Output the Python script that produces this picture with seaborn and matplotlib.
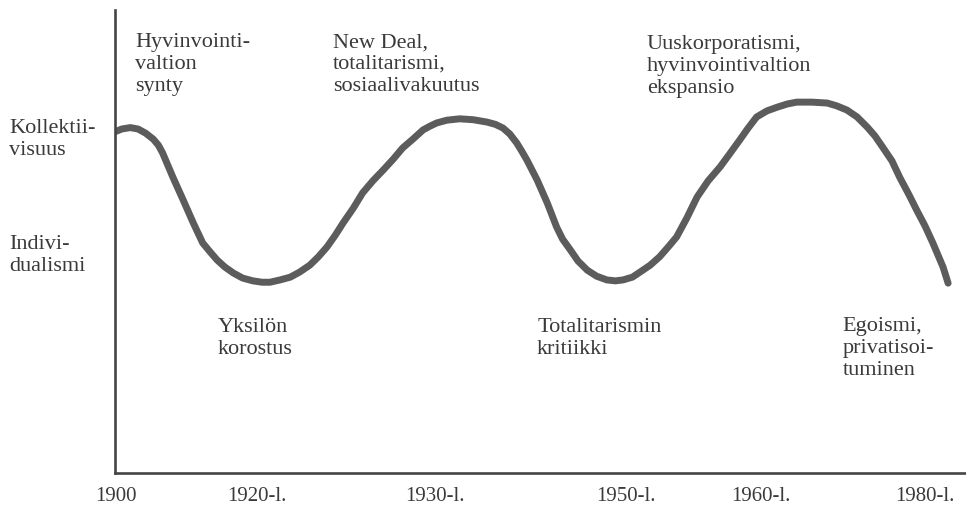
import matplotlib
matplotlib.use("Agg")
import matplotlib.pyplot as plt
import seaborn as sns
import pandas as pd

# --- data (arbitrary units: time position 0-100, orientation 0-100) ---
aika = [0.0, 0.8, 1.8, 2.7, 3.6, 4.5, 5.1, 5.6, 6.8, 8.0,
        9.2, 10.3, 11.2, 12.0, 12.9, 13.9, 15.0, 16.2, 17.3, 18.2,
        19.4, 20.6, 21.7, 22.9, 23.9, 24.9, 25.9, 26.8, 28.0, 29.1,
        30.3,
        31.5, 32.7, 33.8, 35.0, 36.2, 37.0, 37.8, 39.0, 40.5, 42.1,
        43.7, 44.7, 45.6, 46.4, 47.2, 47.8, 48.4, 49.6, 50.8, 51.9,
        52.6, 53.5, 54.4, 55.5, 56.6, 57.8, 58.8, 59.7, 60.8, 61.7,
        62.9, 64.0, 65.0, 66.0, 67.2, 68.4, 69.7, 71.1, 72.3, 73.4, 74.4,
        75.4, 76.6, 77.8, 79.0, 80.1, 81.9, 83.7, 84.8, 86.0, 87.2,
        88.4, 89.3, 90.2, 91.3, 92.2, 93.3, 94.2, 95.2, 96.1, 97.3,
        97.9]
suuntaus = [73.7, 74.3, 74.6, 74.3, 73.4, 72.1, 70.8, 69.1, 63.9, 59.0,
            54.0, 49.7, 47.7, 46.0, 44.5, 43.2, 42.1, 41.5, 41.2, 41.2,
            41.7, 42.3, 43.4, 44.9, 46.7, 48.8, 51.4, 54.0, 57.2, 60.5,
            63.1,
            65.4, 67.8, 70.2, 72.1, 74.1, 74.9, 75.6, 76.2, 76.5, 76.3,
            75.8, 75.3, 74.5, 73.2, 71.3, 69.5, 67.6, 63.3, 58.3, 53.1,
            50.5, 48.2, 45.8, 43.8, 42.5, 41.7, 41.5, 41.7, 42.3, 43.4,
            44.9, 46.7, 48.8, 51.0, 55.1, 59.6, 63.1, 66.1, 69.1, 71.9, 74.5,
            76.9, 78.2, 79.0, 79.7, 80.1, 80.1, 79.9, 79.3, 78.4, 76.9,
            74.7, 72.8, 70.4, 67.4, 63.9, 60.1, 56.8, 53.3, 49.7, 44.5,
            41.0]

x_tick_pos = [0.1, 16.7, 37.6, 60.0, 75.9, 95.2]
x_tick_labels = ["1900", "1920-l.", "1930-l.", "1950-l.", "1960-l.", "1980-l."]

y_tick_pos = [72.8, 47.9]
y_tick_labels = ["Kollektii-\nvisuus", "Indivi-\ndualismi"]

ann_texts = ["Hyvinvointi-\nvaltion\nsynty",
             "New Deal,\ntotalitarismi,\nsosiaalivakuutus",
             "Uuskorporatismi,\nhyvinvointivaltion\nekspansio",
             "Yksilön\nkorostus",
             "Totalitarismin\nkritiikki",
             "Egoismi,\nprivatisoi-\ntuminen"]
ann_x = [2.35, 25.6, 62.5, 12.1, 49.6, 85.5]
ann_y = [95.0, 95.0, 94.6, 33.4, 33.4, 33.6]

df = pd.DataFrame({"aika": aika, "suuntaus": suuntaus})

sns.set_theme(style="white")
plt.rcParams["font.family"] = ["Liberation Serif", "DejaVu Serif"]

text_col = "#3a3a3a"
line_col = "#5c5c5c"
axis_col = "#454545"

fig = plt.figure(figsize=(9.66, 5.12), dpi=100)
fig.patch.set_facecolor("white")
ax = fig.add_axes([115 / 966, 39 / 512, 851 / 966, 463 / 512])
ax.set_facecolor("white")

sns.lineplot(data=df, x="aika", y="suuntaus", sort=False, ax=ax,
             color=line_col, linewidth=5.0, solid_capstyle="round",
             solid_joinstyle="round")

ax.set_xlim(0, 100)
ax.set_ylim(0, 100)

for s in ["top", "right"]:
    ax.spines[s].set_visible(False)
for s in ["left", "bottom"]:
    ax.spines[s].set_color(axis_col)
    ax.spines[s].set_linewidth(1.9)

ax.set_xticks(x_tick_pos)
ax.set_xticklabels(x_tick_labels, fontsize=15, color=text_col)
ax.set_yticks(y_tick_pos)
ax.set_yticklabels(y_tick_labels, fontsize=16, color=text_col,
                   linespacing=1.2)
for lab in ax.get_yticklabels():
    lab.set_horizontalalignment("left")
ax.tick_params(axis="x", length=0, pad=10)
ax.tick_params(axis="y", length=0, pad=76)
ax.set_xlabel("")
ax.set_ylabel("")
ax.grid(False)

for t, xx, yy in zip(ann_texts, ann_x, ann_y):
    ax.text(xx, yy, t, ha="left", va="top", fontsize=16, color=text_col,
            linespacing=1.2)

fig.savefig("out.png", dpi=100, facecolor="white")
